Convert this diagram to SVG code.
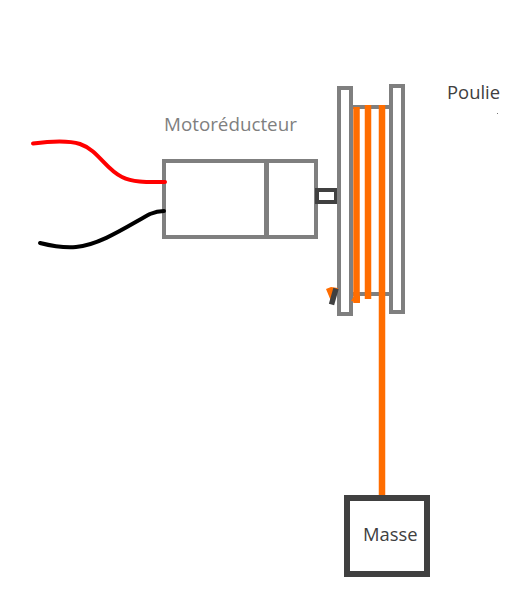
<svg xmlns="http://www.w3.org/2000/svg" width="527" height="598" viewBox="0 0 527 598">
<style>
.g{fill:none;stroke:#7f7f7f;stroke-width:4}
.d{fill:none;stroke:#404040}
.o{fill:none;stroke:#ff6d00;stroke-width:6.5}
.w{fill:none;stroke-width:4;stroke-linecap:round}
text{font-family:"Open Sans","Noto Sans",sans-serif;font-size:18.4px}
</style>
<rect width="527" height="598" fill="#fff"/>
<g id="motor">
<rect class="g" x="164" y="161" width="152" height="76"/>
<rect x="264" y="160" width="5" height="78" fill="#7f7f7f"/>
<text x="164" y="131" fill="#7f7f7f" style="font-size:18.800px">Motoréducteur</text>
</g>
<g id="shaft"><rect class="d" stroke-width="4" x="317" y="190" width="19" height="12"/></g>
<g id="poulie">
<path class="g" d="M353 107H389M353 294H389"/>
<rect class="g" x="339" y="88" width="12" height="226"/>
<rect class="g" x="391" y="86" width="12" height="226"/>
<text x="447" y="99" fill="#404040">Poulie</text>
<rect x="497" y="113" width="1" height="1" fill="#777"/>
</g>
<g id="masse">
<rect class="d" stroke-width="6" x="347" y="498" width="80" height="76"/>
<text x="363" y="541" fill="#404040">Masse</text>
</g>
<g id="connectors">
<path class="w" stroke="#f00" d="M33 143.500C48 141.500 66 139.500 80 144C98 150 106 170 122 177C134 183 150 182 165 182"/>
<path class="w" stroke="#000" d="M40 243C52 246 64 248 76 247C100 245 128 226 150 214C156 211.500 160 211 164 211"/>
<path class="o" d="M356.500 107V303"/>
<path class="o" d="M368 105V299"/>
<path class="o" d="M382 105V495"/>
<path fill="#ff6d00" d="M354 296L351 301L360 303V296Z"/>
<path fill="#ff6d00" d="M326 289L331 287L338 288L333 302L331 301Z"/>
<path stroke="#404040" stroke-width="5.500" d="M336 288.500L331.500 304.500"/>
</g>
</svg>
